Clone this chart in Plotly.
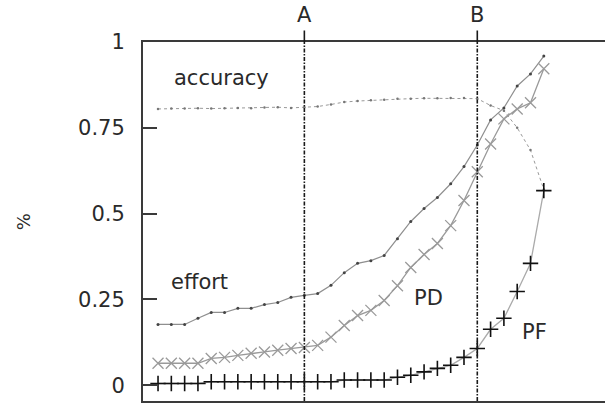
import plotly.graph_objects as go

steps = list(range(30))

accuracy = [0.805, 0.806, 0.806, 0.807, 0.806, 0.807, 0.808, 0.807, 0.809, 0.810, 0.808, 0.810,
            0.812, 0.818, 0.825, 0.828, 0.830, 0.832, 0.835, 0.835, 0.836, 0.836, 0.837, 0.837,
            0.835, 0.815, 0.800, 0.750, 0.685, 0.570]
effort = [0.177, 0.177, 0.177, 0.195, 0.212, 0.212, 0.224, 0.224, 0.235, 0.241, 0.256, 0.262,
          0.267, 0.291, 0.328, 0.355, 0.363, 0.378, 0.427, 0.477, 0.515, 0.547, 0.587, 0.637,
          0.700, 0.773, 0.808, 0.872, 0.907, 0.959]
pd_vals = [0.064, 0.064, 0.064, 0.064, 0.078, 0.081, 0.087, 0.093, 0.097, 0.102, 0.107, 0.110,
           0.116, 0.140, 0.174, 0.203, 0.218, 0.247, 0.290, 0.343, 0.381, 0.413, 0.465, 0.538,
           0.622, 0.703, 0.776, 0.805, 0.823, 0.922]
pf_vals = [0.005, 0.005, 0.005, 0.005, 0.010, 0.010, 0.010, 0.010, 0.010, 0.010, 0.010, 0.010,
           0.010, 0.010, 0.015, 0.015, 0.015, 0.015, 0.023, 0.029, 0.039, 0.049, 0.058, 0.081,
           0.107, 0.163, 0.195, 0.273, 0.355, 0.567]

y_ticks = [0, 0.25, 0.5, 0.75, 1]
y_tick_labels = ["0", "0.25", "0.5", "0.75", "1"]
markers = {"A": 11, "B": 24}

FONT = "DejaVu Sans"
TXT = "#2a2a2a"
VCOL = "#1a1a1a"

fig = go.Figure()
fig.add_trace(go.Scatter(x=steps, y=accuracy, mode="lines+markers",
                         line=dict(color="#999999", width=1, dash="dot"),
                         marker=dict(symbol="circle", size=2.5, color="#777"),
                         showlegend=False))
fig.add_trace(go.Scatter(x=steps, y=effort, mode="lines+markers",
                         line=dict(color="#8f8f8f", width=1.2),
                         marker=dict(symbol="circle", size=3, color="#444"),
                         showlegend=False))
fig.add_trace(go.Scatter(x=steps, y=pd_vals, mode="lines+markers",
                         line=dict(color="#9a9a9a", width=1.3),
                         marker=dict(symbol="x-thin", size=11, line=dict(color="#9a9a9a", width=1.3)),
                         showlegend=False))
fig.add_trace(go.Scatter(x=steps, y=pf_vals, mode="lines+markers",
                         line=dict(color="#aaaaaa", width=1.3),
                         marker=dict(symbol="cross-thin", size=11, line=dict(color="#111", width=1.6)),
                         showlegend=False))

for name, xv in markers.items():
    fig.add_shape(type="line", xref="x", yref="paper", x0=xv, x1=xv, y0=0, y1=1.0,
                  line=dict(color=VCOL, width=1.6, dash="4px,1.5px,1.5px,1.5px"))
    fig.add_annotation(x=xv, y=1.0, xref="x", yref="paper", text=name, showarrow=True,
                       arrowhead=0, arrowwidth=1.6, arrowcolor=VCOL, ax=0, ay=-27,
                       standoff=0, startstandoff=2,
                       font=dict(family=FONT, size=21, color=TXT))

labels = [("accuracy", 4.74, 0.895), ("effort", 3.1, 0.30), ("PD", 20.3, 0.253), ("PF", 28.3, 0.154)]
for t, xv, yv in labels:
    fig.add_annotation(x=xv, y=yv, xref="x", yref="y", text=t, showarrow=False,
                       font=dict(family=FONT, size=21, color=TXT))

fig.add_annotation(x=-0.285, y=0.5, xref="paper", yref="paper", text="%", textangle=-90,
                   showarrow=False, font=dict(family=FONT, size=18, color=TXT))

fig.update_layout(
    width=605, height=403,
    margin=dict(l=143, r=0, t=42, b=2),
    paper_bgcolor="white", plot_bgcolor="white",
    xaxis=dict(range=[-1.13, 33.6], showgrid=False, zeroline=False, showticklabels=False,
               ticks="", showline=True, mirror=True, linecolor="#3a3a3a", linewidth=2),
    yaxis=dict(range=[-0.046, 1.0], showgrid=False, zeroline=False, tickvals=y_ticks,
               ticktext=y_tick_labels, ticks="inside", ticklen=14, tickwidth=1.5,
               tickcolor="#3a3a3a", showline=True, linecolor="#3a3a3a", linewidth=2,
               ticklabelstandoff=12, tickfont=dict(family=FONT, size=21, color=TXT)),
    yaxis2=dict(range=[-0.046, 1.0], overlaying="y", side="right", showgrid=False,
                zeroline=False, tickvals=y_ticks, showticklabels=False, ticks="inside",
                ticklen=6, tickwidth=1.5, tickcolor="#3a3a3a", showline=False),
)

fig.write_html("out.html")
